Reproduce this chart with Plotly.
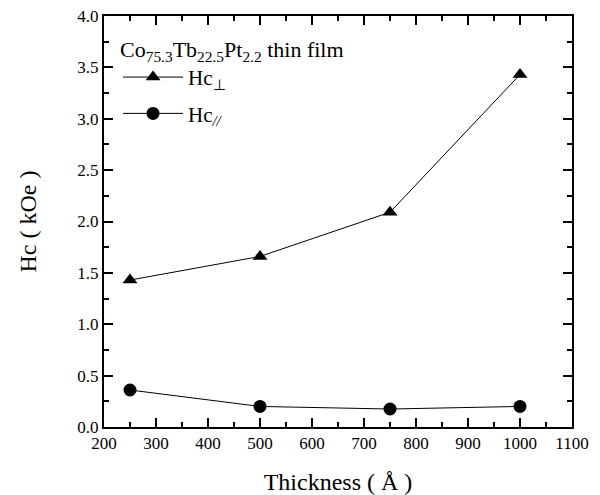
import plotly.graph_objects as go

thickness = [250, 500, 750, 1000]
hc_perp = [1.43, 1.66, 2.09, 3.43]
hc_par = [0.36, 0.20, 0.175, 0.20]

FONT = "Liberation Serif"

fig = go.Figure()
fig.add_trace(go.Scatter(
    x=thickness, y=hc_perp, mode="lines+markers", name="Hc<sub>⊥</sub>",
    legendgroup="perp",
    line=dict(color="black", width=1),
    marker=dict(symbol="triangle-up", size=13, color="black"),
))
fig.add_trace(go.Scatter(
    x=thickness, y=hc_par, mode="lines+markers", name="Hc<sub><i>//</i></sub>",
    legendgroup="par",
    line=dict(color="black", width=1),
    marker=dict(symbol="circle", size=13, color="black"),
))

axis_common = dict(
    showline=True, linecolor="black", linewidth=2, mirror="allticks",
    ticks="inside", ticklen=9, tickwidth=1.5, tickcolor="black",
    showgrid=False, zeroline=False, automargin=False,
    tickfont=dict(family=FONT, size=17, color="black"),
)

fig.update_xaxes(
    range=[200, 1100], dtick=100, tick0=200,
    minor=dict(ticks="inside", ticklen=5, dtick=50, tickcolor="black", tickwidth=1.5),
    title=dict(text="Thickness ( Å )", font=dict(family=FONT, size=24, color="black"), standoff=22),
    **axis_common,
)
fig.update_yaxes(
    range=[0, 4.0], dtick=0.5, tick0=0, tickformat=".1f",
    minor=dict(ticks="inside", ticklen=5, dtick=0.25, tickcolor="black", tickwidth=1.5),
    title=dict(text="Hc ( kOe )", font=dict(family=FONT, size=24, color="black"), standoff=34),
    **axis_common,
)

fig.update_layout(
    width=600, height=495,
    margin=dict(l=104, r=28, t=16, b=68),
    plot_bgcolor="white", paper_bgcolor="white",
    font=dict(family=FONT, size=21, color="black"),
    showlegend=True,
    legend=dict(
        x=0.03, y=0.97, xanchor="left", yanchor="top",
        bgcolor="rgba(0,0,0,0)",
        title=dict(text="Co<sub>75.3</sub>Tb<sub>22.5</sub>Pt<sub>2.2</sub> thin film",
                   font=dict(family=FONT, size=22, color="black")),
        font=dict(family=FONT, size=21, color="black"),
        itemwidth=60, tracegroupgap=6,
    ),
)

fig.write_html("out.html")
